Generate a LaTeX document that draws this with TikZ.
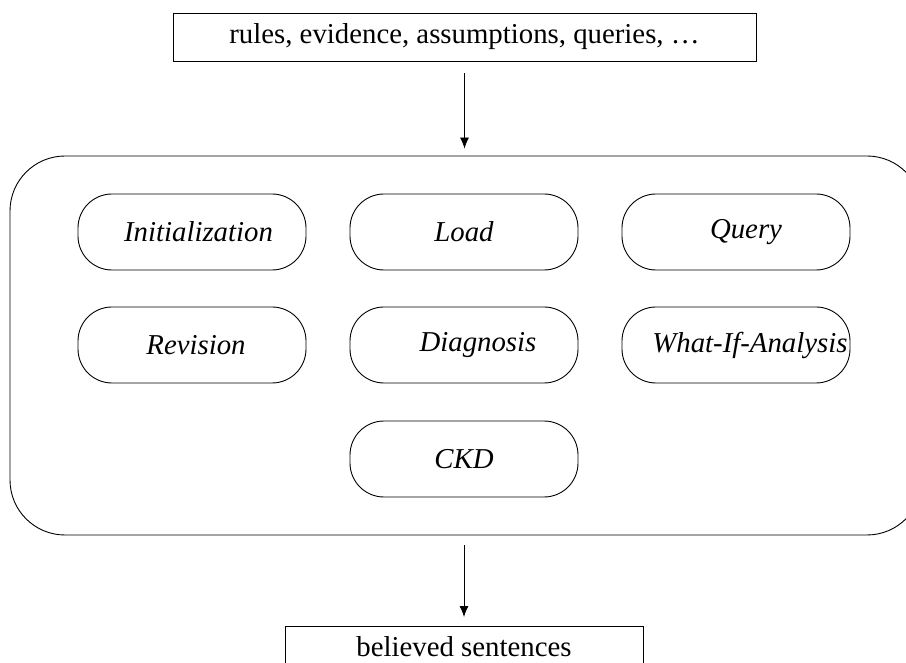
\documentclass[tikz,border=0pt]{standalone}
\usepackage{fontspec}
\setmainfont{Liberation Serif}
\usetikzlibrary{arrows.meta}

\begin{document}
\begin{tikzpicture}[x=0.5pt,y=-0.5pt,line width=0.45pt,
  every node/.style={font=\fontsize{14.4}{17}\selectfont},
  iobox/.style={draw,minimum height=24pt,inner sep=0pt},
  opbox/.style={draw,rounded corners=17pt,minimum width=114pt,minimum height=38pt,inner sep=0pt,
    font=\fontsize{14.4}{17}\selectfont\itshape},
  flow/.style={-{Latex[length=5.5pt,width=4.5pt]},shorten <=5pt,shorten >=4pt}]
\useasboundingbox (0,0) rectangle (906,663);
% input and output
\node[iobox,minimum width=291.5pt] (input) at (464.5,37) {rules, evidence, assumptions, queries, \dots};
\node[iobox,minimum width=179pt,minimum height=20pt,anchor=north] (output) at (464,626) {believed sentences};
% the engine with its operations
\node[draw,rounded corners=27.5pt,minimum width=456pt,minimum height=189.5pt] (engine) at (466,345.5) {};
\node[opbox] (init) at (192,232) {\hspace*{6.5pt}Initialization};
\node[opbox] (load) at (464,232) {Load};
\node[opbox] (query) at (736,232) {\hspace*{10pt}Query};
\node[opbox] (revision) at (192,345) {\hspace*{4pt}Revision};
\node[opbox] (diagnosis) at (464,345) {\hspace*{14pt}Diagnosis};
\node[opbox] (whatif) at (736,345) {\hspace*{14pt}What-If-Analysis};
\node[opbox] (ckd) at (464,459) {CKD};
% flow
\draw[flow,shorten <=6pt,shorten >=3.5pt] (input.south) -- (input.south |- engine.north);
\draw[flow,shorten >=4.5pt] (output.north |- engine.south) -- (output.north);
\end{tikzpicture}
\end{document}
